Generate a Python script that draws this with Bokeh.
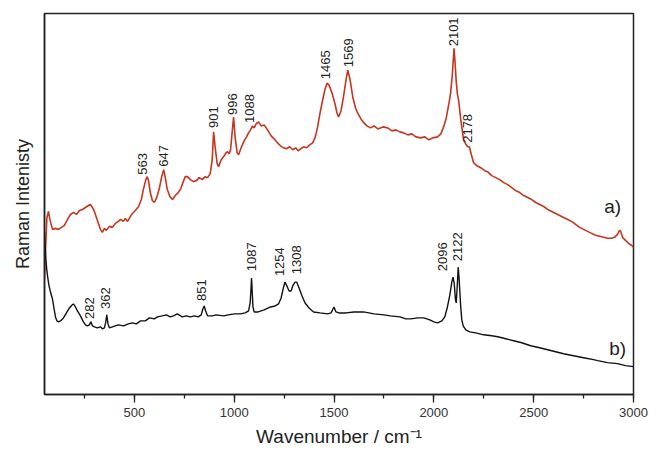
from math import pi
from bokeh.plotting import figure
from bokeh.models import Range1d, SingleIntervalTicker, FixedTicker
from bokeh.core.properties import value
from bokeh.embed import file_html
from bokeh.resources import INLINE

# ---- spectrum a) (red) : wavenumber / intensity (a.u.) ----
red_wn = [50, 56, 62, 70, 78, 90, 105, 120, 135, 150, 165, 180, 195, 210, 225, 240, 255, 270, 280, 290,
          300, 310, 320, 330, 340, 350, 360, 375, 390, 405, 420, 431, 445, 455, 466, 478, 490, 505, 521, 535,
          545, 555, 563, 570, 580, 590, 600, 612, 625, 637, 647, 655, 665, 678, 691, 705, 720, 733, 745, 755,
          766, 780, 796, 810, 825, 840, 855, 867, 880, 890, 897, 905, 915, 922, 935, 950, 960, 967, 975, 982,
          990, 997, 1005, 1015, 1022, 1035, 1050, 1062, 1072, 1082, 1092, 1100, 1110, 1122, 1135, 1150, 1167, 1185, 1200, 1217,
          1232, 1247, 1262, 1278, 1293, 1308, 1320, 1333, 1348, 1363, 1378, 1393, 1405, 1418, 1430, 1443, 1455, 1465, 1475, 1490,
          1505, 1515, 1523, 1535, 1548, 1560, 1569, 1580, 1595, 1608, 1618, 1635, 1650, 1665, 1683, 1700, 1720, 1745, 1768, 1790,
          1810, 1830, 1849, 1870, 1890, 1910, 1934, 1955, 1975, 1995, 2019, 2035, 2049, 2062, 2075, 2084, 2092, 2098, 2101, 2106,
          2112, 2118, 2124, 2135, 2149, 2162, 2170, 2178, 2188, 2199, 2215, 2235, 2255, 2269, 2290, 2310, 2330, 2350, 2370, 2390,
          2410, 2430, 2450, 2470, 2490, 2510, 2530, 2550, 2570, 2590, 2610, 2630, 2650, 2670, 2690, 2710, 2730, 2750, 2770, 2790,
          2810, 2830, 2850, 2870, 2890, 2905, 2920, 2930, 2936, 2945, 2960, 2975, 2990, 3000]
red_int = [116, 150, 178, 184, 175, 166, 167, 166, 168, 170, 176, 181, 183, 181, 185, 186, 188, 190, 191, 188,
           184, 178, 172, 166, 163, 167, 165, 169, 168, 172, 174, 176, 174, 177, 174, 178, 182, 185, 189, 196,
           206, 214, 219, 216, 203, 195, 193, 198, 207, 219, 226, 218, 206, 199, 196, 200, 203, 207, 214, 219,
           219, 216, 214, 215, 218, 216, 219, 218, 222, 236, 264, 248, 232, 229, 236, 240, 243, 244, 242, 246,
           264, 279, 258, 243, 241, 248, 255, 259, 263, 266, 270, 268, 272, 274, 270, 271, 266, 260, 257, 253,
           250, 248, 247, 249, 246, 248, 245, 247, 249, 248, 251, 253, 258, 269, 283, 296, 307, 313, 311, 303,
           292, 283, 279, 285, 300, 316, 326, 317, 298, 288, 283, 277, 273, 270, 268, 270, 267, 269, 268, 265,
           266, 264, 263, 261, 262, 259, 258, 259, 256, 258, 259, 262, 269, 278, 292, 303, 320, 338, 348, 335,
           315, 302, 296, 276, 256, 251, 249, 249, 241, 233, 230, 228, 225, 224, 220, 218, 216, 213, 211, 208,
           205, 203, 200, 198, 196, 193, 191, 189, 186, 184, 182, 180, 178, 176, 174, 171, 168, 166, 164, 162,
           160, 159, 158, 157, 157, 158, 161, 165, 164, 158, 155, 152, 150, 148]

# ---- spectrum b) (black) ----
black_wn = [50, 53, 57, 61, 66, 72, 80, 90, 98, 105, 112, 120, 130, 145, 160, 175, 188, 195, 205, 215,
            230, 245, 255, 265, 275, 282, 290, 300, 315, 330, 340, 350, 356, 362, 368, 375, 390, 405, 420, 446,
            470, 490, 510, 531, 555, 575, 600, 616, 640, 660, 680, 696, 715, 740, 760, 781, 800, 820, 835, 843,
            850, 857, 867, 890, 910, 947, 970, 1000, 1032, 1055, 1072, 1080, 1084, 1087, 1090, 1094, 1100, 1120, 1150, 1182,
            1205, 1222, 1235, 1245, 1254, 1262, 1275, 1285, 1295, 1305, 1313, 1325, 1340, 1355, 1375, 1398, 1430, 1468, 1485, 1495,
            1500, 1510, 1525, 1560, 1600, 1648, 1700, 1750, 1783, 1830, 1860, 1884, 1920, 1949, 1980, 2000, 2019, 2040, 2055, 2068,
            2080, 2090, 2096, 2102, 2108, 2112, 2117, 2122, 2127, 2134, 2140, 2147, 2160, 2180, 2210, 2250, 2290, 2320, 2360, 2400,
            2440, 2485, 2530, 2570, 2610, 2650, 2700, 2750, 2800, 2821, 2870, 2920, 2960, 3000]
black_int = [164, 150, 136, 126, 118, 110, 103, 96, 86, 78, 74, 73, 74, 77, 82, 87, 90, 91, 88, 84,
             79, 73, 70, 69, 70, 73, 69, 68, 67, 68, 66, 67, 72, 80, 71, 67, 68, 69, 70, 69,
             71, 72, 71, 74, 74, 77, 76, 78, 79, 80, 78, 79, 81, 78, 79, 78, 79, 78, 80, 86,
             89, 84, 79, 79, 80, 79, 80, 81, 81, 82, 84, 92, 105, 117, 105, 88, 83, 83, 85, 88,
             89, 91, 97, 106, 113, 110, 104, 104, 110, 113, 113, 107, 99, 92, 87, 83, 82, 81, 82, 86,
             88, 83, 82, 82, 83, 83, 81, 80, 79, 78, 76, 76, 77, 77, 75, 73, 72, 74, 78, 88,
             100, 113, 118, 112, 96, 92, 108, 128, 115, 90, 75, 69, 65, 63, 62, 60, 59, 58, 56, 54,
             52, 49, 47, 45, 43, 41, 39, 37, 35, 34, 32, 31, 29, 28]

# ---- peak labels ----
a_labels = ["563", "647", "901", "996", "1088", "1465", "1569", "2101", "2178"]
a_label_x = [543, 646, 894, 992, 1077, 1458, 1573, 2100, 2171]
a_label_y = [221, 229, 268, 281, 273, 317, 329, 350, 253]
b_labels = ["282", "362", "851", "1087", "1254", "1308", "2096", "2122"]
b_label_x = [275, 356, 837, 1087, 1227, 1313, 2044, 2119]
b_label_y = [76, 86, 94, 124, 119, 121, 124, 134]

series_tags = ["a)", "b)"]
tag_x = [2896, 2921]
tag_y = [189, 46]

FONT = "Liberation Sans"

p = figure(width=649, height=449, output_backend="svg", toolbar_location=None,
           x_range=Range1d(50, 3000), y_range=Range1d(0, 383),
           min_border_left=44, min_border_right=16, min_border_top=13, min_border_bottom=0)
p.xgrid.visible = False
p.ygrid.visible = False
p.outline_line_color = "#222222"
p.outline_line_width = 1.5

p.line(red_wn, red_int, line_color="#c8351f", line_width=1.6)
p.line(black_wn, black_int, line_color="#111111", line_width=1.4)

p.text(x=a_label_x, y=a_label_y, text=a_labels, angle=pi / 2, text_align="left", text_baseline="middle",
       text_font=value(FONT), text_font_size="13px", text_color="#222222")
p.text(x=b_label_x, y=b_label_y, text=b_labels, angle=pi / 2, text_align="left", text_baseline="middle",
       text_font=value(FONT), text_font_size="13px", text_color="#222222")
p.text(x=tag_x, y=tag_y, text=series_tags, text_align="center", text_baseline="middle",
       text_font=value(FONT), text_font_size="19px", text_color="#222222")

xa = p.xaxis[0]
xa.ticker = SingleIntervalTicker(interval=500, num_minor_ticks=2)
xa.major_tick_out = 8
xa.major_tick_in = 0
xa.minor_tick_out = 4
xa.minor_tick_in = 0
xa.major_tick_line_width = 1.3
xa.minor_tick_line_width = 1.3
xa.major_tick_line_color = "#222222"
xa.minor_tick_line_color = "#222222"
xa.axis_line_color = "#222222"
xa.axis_line_width = 1.5
xa.major_label_standoff = 5
xa.major_label_text_font = FONT
xa.major_label_text_font_size = "13px"
xa.major_label_text_color = "#333333"
xa.axis_label = "Wavenumber / cm\u207b\u00b9"
xa.axis_label_text_font = FONT
xa.axis_label_text_font_size = "19px"
xa.axis_label_text_font_style = "normal"
xa.axis_label_text_color = "#222222"
xa.axis_label_standoff = 6

ya = p.yaxis[0]
ya.ticker = FixedTicker(ticks=[])
ya.major_tick_out = 0
ya.major_tick_in = 0
ya.major_label_standoff = 0
ya.axis_line_color = "#222222"
ya.axis_line_width = 1.5
ya.axis_label = "Raman Intenisty"
ya.axis_label_text_font = FONT
ya.axis_label_text_font_size = "18px"
ya.axis_label_text_font_style = "normal"
ya.axis_label_text_color = "#222222"
ya.axis_label_standoff = 12

open("out.html", "w").write(file_html(p, INLINE))
